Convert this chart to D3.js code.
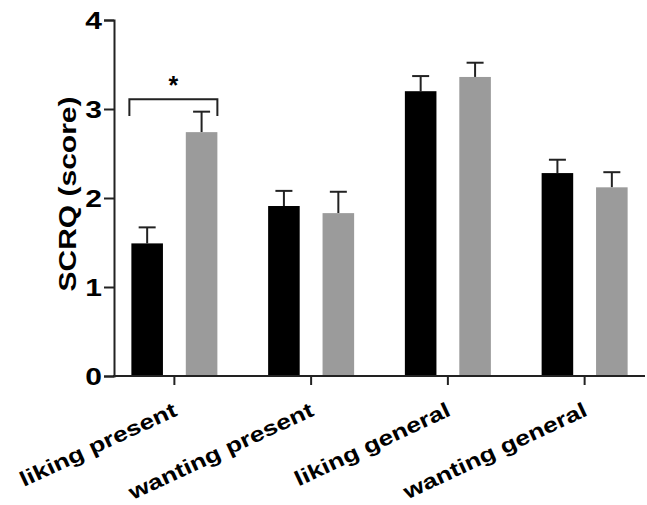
<!DOCTYPE html>
<html>
<head>
<meta charset="utf-8">
<style>
  body { margin: 0; background: #fff; }
  text { font-family: "Liberation Sans", Arial, sans-serif; font-weight: bold; fill: #000; }
</style>
</head>
<body>
<script src="https://cdnjs.cloudflare.com/ajax/libs/d3/7.8.5/d3.min.js"></script>
<script>
var categories = ["liking present", "wanting present", "liking general", "wanting general"];
var groups = ["a", "b"];
var means = [[1.49, 2.74], [1.91, 1.83], [3.20, 3.36], [2.28, 2.12]];
var errors = [[0.18, 0.23], [0.17, 0.24], [0.17, 0.16], [0.15, 0.17]];
var yTicks = [0, 1, 2, 3, 4];
var colors = ["#000000", "#9b9b9b"];

var w = 647, h = 505;
var sx = 1.25; // wide lettering
var svg = d3.select("body").append("svg").attr("width", w).attr("height", h);

var x = d3.scaleBand().domain(categories).range([106, 653]);
var xInner = d3.scaleBand().domain(groups).range([-43, 43]).paddingInner(0.42);
var y = d3.scaleLinear().domain([0, 4]).range([376, 20]);

// bars
var g = svg.selectAll("g.cat")
    .data(categories)
    .enter().append("g")
    .attr("transform", function(d) { return "translate(" + (x(d) + x.bandwidth() / 2) + ",0)"; });

g.each(function(c, i) {
    var sel = d3.select(this);
    groups.forEach(function(k, j) {
        var m = means[i][j], e = errors[i][j];
        var cx = xInner(k) + xInner.bandwidth() / 2;
        sel.append("line")
            .attr("x1", cx).attr("x2", cx)
            .attr("y1", y(m)).attr("y2", y(m + e))
            .attr("stroke", "#222").attr("stroke-width", 2);
        sel.append("line")
            .attr("x1", cx - 8.5).attr("x2", cx + 8.5)
            .attr("y1", y(m + e)).attr("y2", y(m + e))
            .attr("stroke", "#222").attr("stroke-width", 2);
        sel.append("rect")
            .attr("x", xInner(k))
            .attr("y", y(m))
            .attr("width", xInner.bandwidth())
            .attr("height", y(0) - y(m))
            .attr("fill", colors[j]);
    });
});

// y axis
var yAxis = svg.append("g")
    .attr("transform", "translate(114,0)")
    .call(d3.axisLeft(y).tickValues(yTicks).tickSize(10).tickFormat(d3.format("d")));
yAxis.select(".domain").attr("stroke", "#222").attr("stroke-width", 2);
yAxis.selectAll(".tick line").attr("stroke", "#222").attr("stroke-width", 2);
yAxis.selectAll("text")
    .attr("font-size", 24)
    .attr("font-family", null).attr("fill", null)
    .attr("x", -12 / sx)
    .attr("dy", "0.36em")
    .attr("transform", "scale(" + sx + ",1)");

// x axis
var xAxis = svg.append("g")
    .attr("transform", "translate(0," + y(0) + ")")
    .call(d3.axisBottom(x).tickSize(9).tickSizeOuter(0).tickFormat(""));
xAxis.select(".domain").attr("d", "M113,0H645").attr("stroke", "#222").attr("stroke-width", 2);
xAxis.selectAll(".tick line").attr("stroke", "#222").attr("stroke-width", 2);

svg.append("g").selectAll("text")
    .data(categories)
    .enter().append("text")
    .attr("text-anchor", "end")
    .attr("font-size", 21)
    .attr("transform", function(d) {
        return "translate(" + (x(d) + x.bandwidth() / 2 + 4) + "," + (y(0) + 39) + ") rotate(-25) scale(" + sx + ",1)";
    })
    .text(function(d) { return d; });

// y label
svg.append("text")
    .attr("text-anchor", "middle")
    .attr("font-size", 24)
    .attr("transform", "translate(76,194) rotate(-90) scale(" + sx + ",1)")
    .text("SCRQ (score)");

// significance bracket
var bx0 = x(categories[0]) + x.bandwidth() / 2 + xInner(groups[0]) - 2;
var bx1 = x(categories[0]) + x.bandwidth() / 2 + xInner(groups[1]) + xInner.bandwidth();
svg.append("path")
    .attr("d", "M" + bx0 + "," + y(2.92) + "V" + y(3.11) + "H" + bx1 + "V" + y(2.92))
    .attr("fill", "none").attr("stroke", "#222").attr("stroke-width", 2);
svg.append("text")
    .attr("text-anchor", "middle")
    .attr("x", (bx0 + bx1) / 2)
    .attr("y", y(3.11) - 5)
    .attr("font-size", 25)
    .text("*");
</script>
</body>
</html>
